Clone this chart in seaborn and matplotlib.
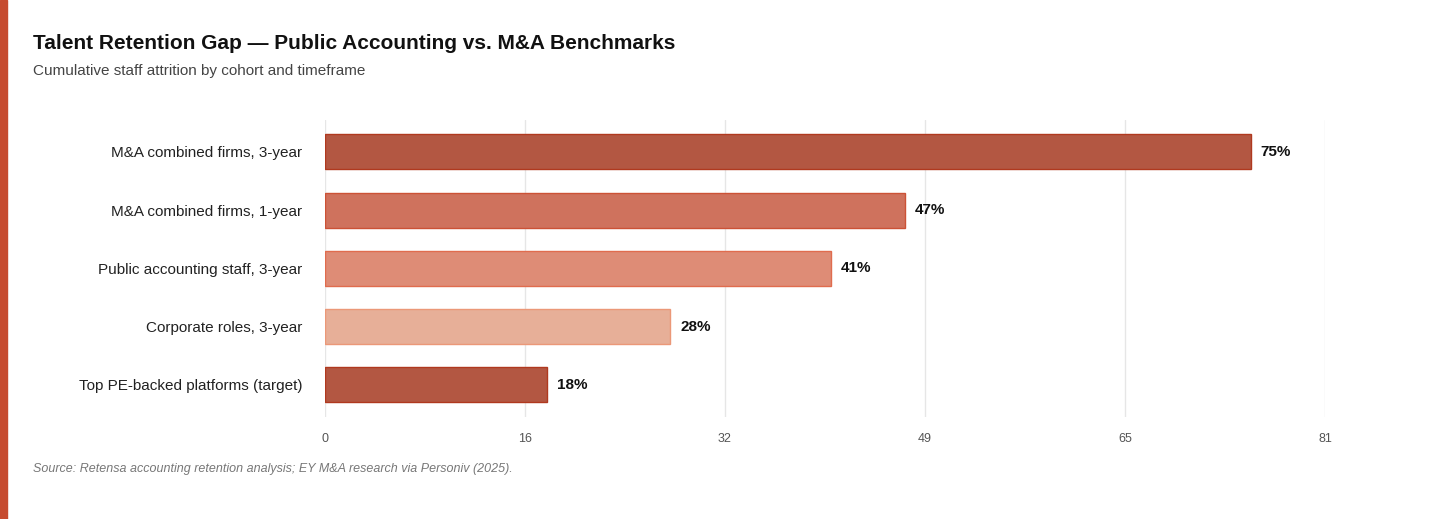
import matplotlib
matplotlib.use("Agg")
import matplotlib.pyplot as plt
import seaborn as sns
import pandas as pd

categories = ["M&A combined firms, 3-year", "M&A combined firms, 1-year",
              "Public accounting staff, 3-year", "Corporate roles, 3-year",
              "Top PE-backed platforms (target)"]
values = [75, 47, 41, 28, 18]
colors = ["#C64B2F", "#E2664A", "#F08264", "#F4AA8B", "#C64B2F"]
edges = ["#B0391F", "#CC5236", "#E06C4E", "#EB9878", "#B0391F"]
tick_vals = [0, 16.2, 32.4, 48.6, 64.8, 81]
tick_labels = ["0", "16", "32", "49", "65", "81"]

df = pd.DataFrame({"label": categories, "value": values})

sns.set_style("white")
plt.rcParams["font.family"] = ["Liberation Sans", "DejaVu Sans"]

fig = plt.figure(figsize=(14.56, 5.19), dpi=100)
ax = fig.add_axes([0.223, 0.197, 0.687, 0.572])
sns.barplot(data=df, x="value", y="label", hue="label", palette=colors,
            width=0.6, legend=False, ax=ax, zorder=3)
for p, ec in zip(ax.patches, edges):
    p.set_edgecolor(ec)
    p.set_linewidth(1)

for i, v in enumerate(values):
    ax.text(v + 0.8, i, f"{v}%", va="center", ha="left", fontsize=11,
            fontweight="bold", color="#111111")

ax.set_xlim(0, 81)
ax.set_ylim(4.55, -0.55)
ax.set_xticks(tick_vals)
ax.set_xticklabels(tick_labels, fontsize=9, color="#555555")
ax.tick_params(axis="y", labelsize=11, colors="#222222", length=0, pad=16)
ax.tick_params(axis="x", length=0, pad=12)
ax.grid(axis="x", color="#E6E6E6", linewidth=1, zorder=0)
ax.set_xlabel("")
ax.set_ylabel("")
for s in ax.spines.values():
    s.set_visible(False)

fig.text(0.023, 0.905, "Talent Retention Gap \u2014 Public Accounting vs. M&A Benchmarks",
         fontsize=15, fontweight="bold", color="#111111")
fig.text(0.023, 0.855, "Cumulative staff attrition by cohort and timeframe",
         fontsize=11, color="#444444")
fig.text(0.023, 0.09, "Source: Retensa accounting retention analysis; EY M&A research via Personiv (2025).",
         fontsize=9, style="italic", color="#777777")
fig.add_artist(plt.Rectangle((0, 0), 0.0045, 1, transform=fig.transFigure,
                             color="#C64B2F", zorder=5))

fig.savefig("out.png", dpi=100, facecolor="white")
